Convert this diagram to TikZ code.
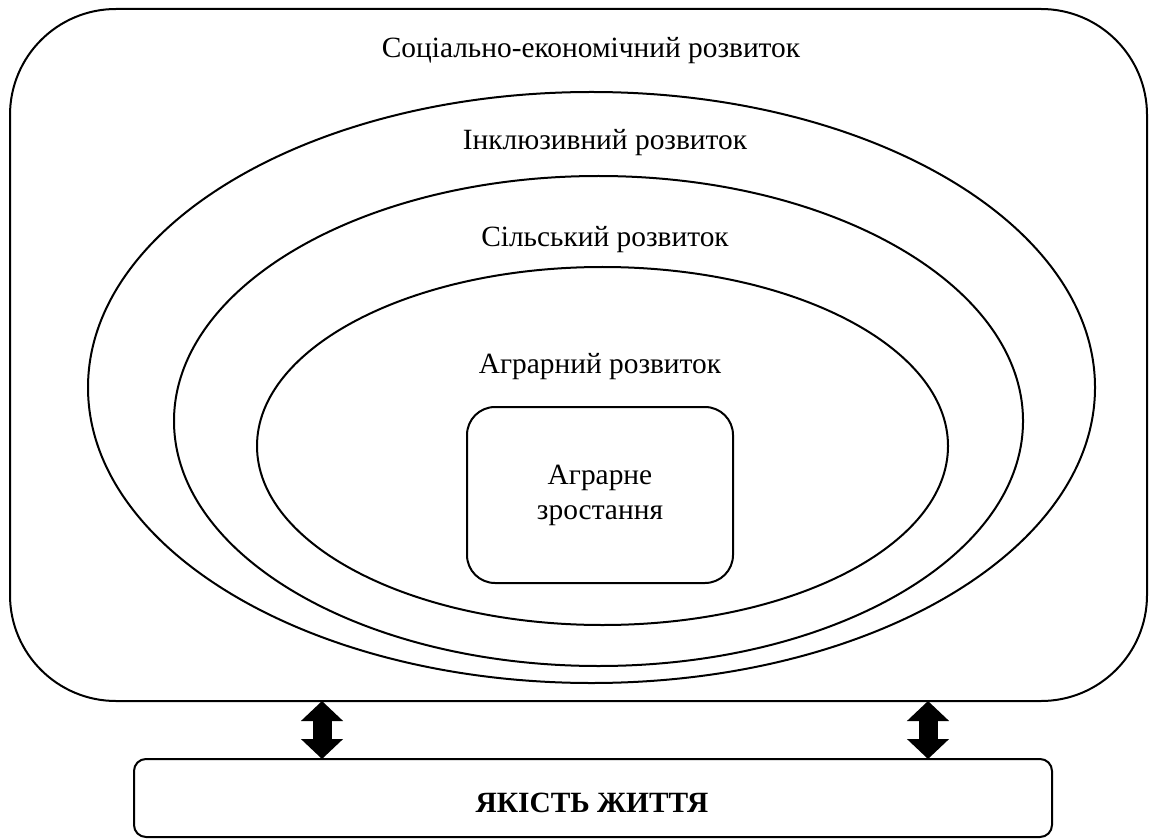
\documentclass[tikz,border=0pt]{standalone}
\usepackage{fontspec}
\setmainfont{Liberation Serif}
\usetikzlibrary{shapes.geometric,arrows.meta,positioning}
\tikzset{
	level/.style={draw,ellipse,inner sep=0pt,outer sep=0pt},
	rbox/.style={draw,rectangle,inner sep=0pt,outer sep=0pt,rounded corners=#1},
	lbl/.style={anchor=base,inner sep=0pt},
	link/.style={line width=9.5pt,
		{Triangle[width=20.5pt,length=10pt]}-{Triangle[width=20.5pt,length=10pt]}}
}

\begin{document}
\begin{tikzpicture}[x=0.5pt,y=-0.5pt,line width=1pt,font=\fontsize{14.7pt}{17.5pt}\selectfont]
	\useasboundingbox (0,0) rectangle (1149,839);
	\node[rbox=53pt,minimum width=568.5pt,minimum height=346pt] (socio) at (578.5,355) {};
	\node[level,minimum width=503.5pt,minimum height=295.5pt] (incl) at (591.5,387.5) {};
	\node[level,minimum width=424.5pt,minimum height=245pt] (rural) at (598.5,421) {};
	\node[level,minimum width=345.5pt,minimum height=179pt] (agro) at (602.5,446) {};
	\node[rbox=14pt,minimum width=133pt,minimum height=88pt,align=center] (growth) at (600,495) {Аграрне\\зростання};
	\node[rbox=6pt,minimum width=459pt,minimum height=39pt] (life) at (593,798) {};
	% labels
	\node[lbl] (socio lbl) at (591,58) {Соціально-економічний розвиток};
	\node[lbl] (incl lbl) at (605,150) {Інклюзивний розвиток};
	\node[lbl] (rural lbl) at (605,247) {Сільський розвиток};
	\node[lbl] (agro lbl) at (600,373) {Аграрний розвиток};
	\node[lbl,font=\fontsize{14.7pt}{17.5pt}\selectfont\bfseries] (life lbl) at (592,812) {ЯКІСТЬ ЖИТТЯ};
	% links
	\coordinate (left link) at (322,0);
	\coordinate (right link) at (928,0);
	\draw[link] (socio.south -| left link) -- (life.north -| left link);
	\draw[link] (socio.south -| right link) -- (life.north -| right link);
\end{tikzpicture}
\end{document}
